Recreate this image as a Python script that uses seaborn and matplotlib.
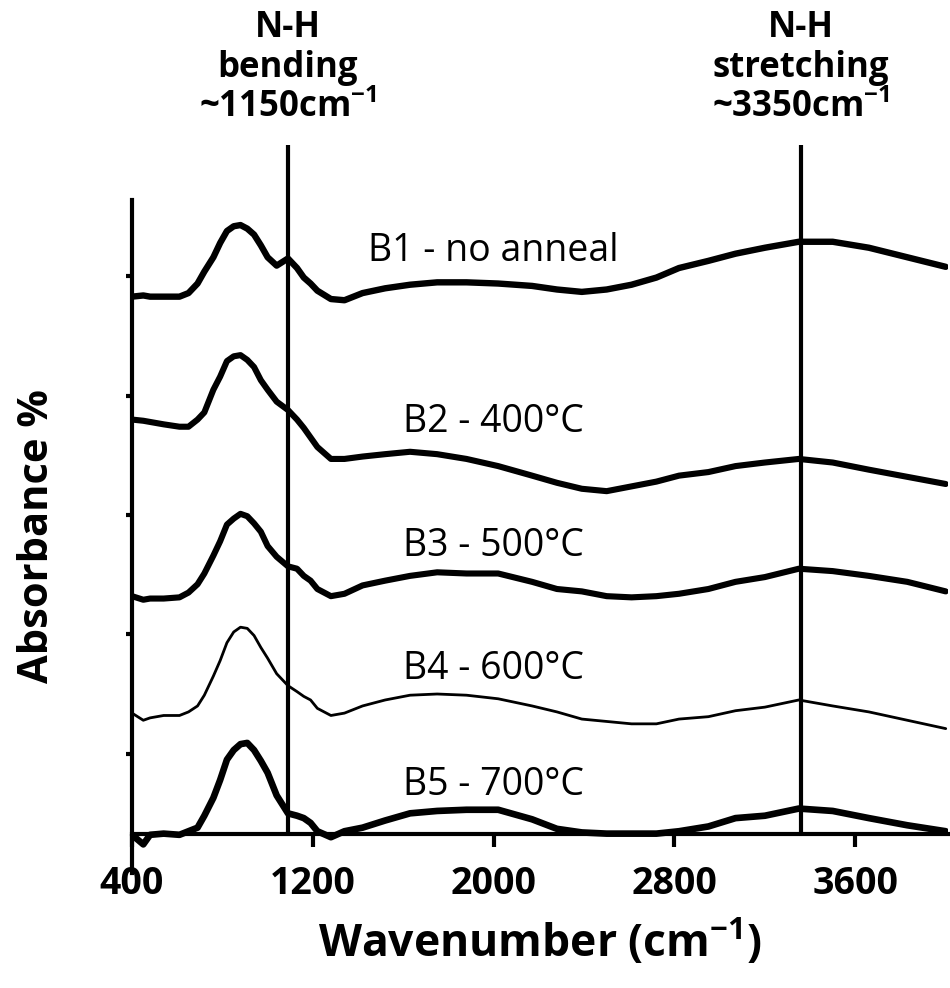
import matplotlib
matplotlib.use("Agg")
import matplotlib.pyplot as plt
import matplotlib.transforms as mtransforms
import seaborn as sns
import pandas as pd

# ---- data ----
wavenumber = [400, 450, 480, 540, 610, 650, 690, 720, 760, 790, 820, 850, 880,
              910, 940, 970, 1000, 1040, 1090, 1130, 1160, 1190, 1220, 1280,
              1340, 1420, 1520, 1630, 1750, 1880, 2020, 2170, 2280, 2390, 2500,
              2610, 2720, 2820, 2950, 3070, 3200, 3350, 3500, 3660, 3830, 4000]
b1 = [4.83, 4.84, 4.83, 4.83, 4.83, 4.86, 4.94, 5.04, 5.16, 5.28, 5.38, 5.42,
      5.43, 5.40, 5.35, 5.26, 5.16, 5.09, 5.15, 5.07, 4.99, 4.94, 4.88, 4.81,
      4.80, 4.86, 4.90, 4.93, 4.95, 4.95, 4.94, 4.92, 4.89, 4.87, 4.89, 4.93,
      4.99, 5.07, 5.13, 5.19, 5.24, 5.29, 5.29, 5.24, 5.16, 5.08]
b2 = [3.80, 3.79, 3.78, 3.76, 3.74, 3.74, 3.80, 3.86, 4.05, 4.16, 4.29, 4.33,
      4.34, 4.30, 4.24, 4.13, 4.05, 3.95, 3.88, 3.80, 3.73, 3.65, 3.57, 3.47,
      3.47, 3.49, 3.51, 3.53, 3.51, 3.47, 3.41, 3.33, 3.27, 3.22, 3.20, 3.24,
      3.28, 3.33, 3.36, 3.41, 3.44, 3.47, 3.44, 3.38, 3.32, 3.26]
b3 = [2.32, 2.29, 2.30, 2.30, 2.31, 2.35, 2.42, 2.51, 2.66, 2.78, 2.92, 2.97,
      3.01, 2.99, 2.93, 2.86, 2.74, 2.65, 2.57, 2.55, 2.49, 2.45, 2.38, 2.32,
      2.34, 2.41, 2.45, 2.49, 2.52, 2.51, 2.51, 2.44, 2.38, 2.36, 2.32, 2.31,
      2.32, 2.34, 2.38, 2.44, 2.48, 2.55, 2.53, 2.49, 2.44, 2.36]
b4 = [1.34, 1.28, 1.30, 1.32, 1.32, 1.35, 1.40, 1.49, 1.65, 1.78, 1.93, 2.02,
      2.06, 2.05, 1.99, 1.89, 1.80, 1.67, 1.57, 1.52, 1.48, 1.45, 1.38, 1.32,
      1.34, 1.40, 1.45, 1.49, 1.50, 1.49, 1.46, 1.40, 1.35, 1.29, 1.27, 1.25,
      1.25, 1.29, 1.31, 1.36, 1.39, 1.45, 1.40, 1.35, 1.28, 1.21]
b5 = [0.32, 0.24, 0.32, 0.33, 0.32, 0.35, 0.38, 0.48, 0.63, 0.78, 0.95, 1.03,
      1.08, 1.09, 1.03, 0.94, 0.84, 0.65, 0.50, 0.48, 0.46, 0.42, 0.35, 0.30,
      0.35, 0.38, 0.44, 0.50, 0.52, 0.53, 0.53, 0.45, 0.37, 0.34, 0.33, 0.33,
      0.33, 0.35, 0.39, 0.46, 0.48, 0.54, 0.52, 0.46, 0.40, 0.35]

series_names = ["B1 - no anneal", "B2 - 400°C", "B3 - 500°C", "B4 - 600°C", "B5 - 700°C"]
series_values = [b1, b2, b3, b4, b5]
label_y = [5.21, 3.78, 2.74, 1.71, 0.74]
line_widths = [4.6, 4.4, 4.4, 2.0, 4.8]

peak_positions = [1090, 3360]
peak_labels = ["N-H\nbending\n~1150cm$^{\\mathbf{-1}}$",
               "N-H\nstretching\n~3350cm$^{\\mathbf{-1}}$"]

xticks = [400, 1200, 2000, 2800, 3600]
yticks = [1, 2, 3, 4, 5]

# ---- style ----
sns.set_theme(style="white")
plt.rcParams["font.family"] = ["Open Sans", "DejaVu Sans"]
plt.rcParams["mathtext.fontset"] = "custom"
plt.rcParams["mathtext.rm"] = "Open Sans"
plt.rcParams["mathtext.bf"] = "Open Sans:bold"
plt.rcParams["text.color"] = "black"
plt.rcParams["axes.labelcolor"] = "black"
plt.rcParams["xtick.color"] = "black"
plt.rcParams["ytick.color"] = "black"

fig = plt.figure(figsize=(9.5, 9.88), dpi=100)
ax = fig.add_axes([132 / 950, 1 - 873 / 988, (948 - 132) / 950, (873 - 200) / 988])

for name, vals, lw in zip(series_names, series_values, line_widths):
    df = pd.DataFrame({"wavenumber": wavenumber, "absorbance": vals})
    sns.lineplot(data=df, x="wavenumber", y="absorbance", color="black",
                 linewidth=lw, ax=ax, solid_joinstyle="round",
                 solid_capstyle="round", estimator=None, sort=True)

for name, ly in zip(series_names, label_y):
    ax.text(2000, ly, name, ha="center", va="center", fontsize=27,
            color="black")

baseline = 0.325
ax.set_xlim(400, 4010)
ax.set_ylim(0, 5.64)

ax.vlines(peak_positions, baseline, 6.10, color="black", linewidth=3,
          clip_on=False)

trans = mtransforms.blended_transform_factory(ax.transData, fig.transFigure)
for xp, lab in zip(peak_positions, peak_labels):
    ax.text(xp, 1 - 10 / 988, lab, transform=trans, ha="center", va="top",
            fontsize=25, fontweight="bold", linespacing=1.15, color="black")

for s in ["top", "right"]:
    ax.spines[s].set_visible(False)
ax.spines["bottom"].set_position(("data", baseline))
for s in ["left", "bottom"]:
    ax.spines[s].set_color("black")
    ax.spines[s].set_linewidth(3)

ax.set_xticks(xticks)
ax.set_xticklabels([str(t) for t in xticks], fontsize=27, fontweight="bold")
ax.set_yticks(yticks)
ax.set_yticklabels([])
ax.tick_params(axis="x", direction="out", length=9, width=3, pad=13,
               bottom=True, colors="black")
ax.tick_params(axis="y", direction="out", length=4, width=3, left=True,
               colors="black")

ax.set_xlabel("Wavenumber (cm$^{\\mathbf{-1}}$)", fontsize=32, fontweight="bold")
ax.xaxis.set_label_coords(0.5, (873 - 918) / 673)
ax.set_ylabel("Absorbance %", fontsize=30, fontweight="bold")
ax.yaxis.set_label_coords((58 - 132) / 816, 0.5)
ax.grid(False)

fig.savefig("out.png", dpi=100, facecolor="white")
